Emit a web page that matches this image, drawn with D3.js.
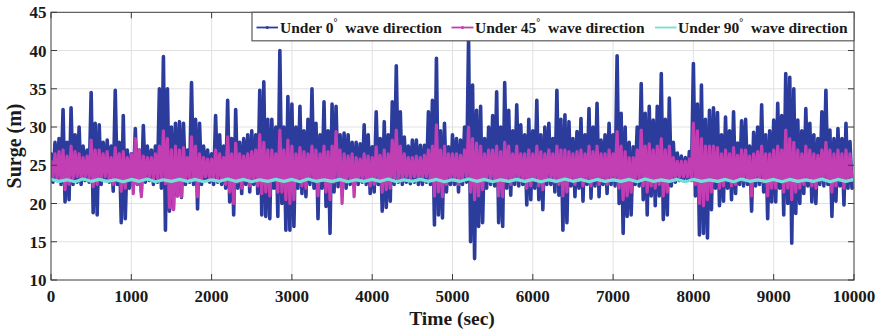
<!DOCTYPE html>
<html><head><meta charset="utf-8">
<script src="https://cdn.jsdelivr.net/npm/d3@7"></script>
<style>
body{margin:0;background:#fff}
text{font-family:"Liberation Serif","Times New Roman",serif;font-weight:bold;fill:#1a1a1a}
</style>
</head><body><svg id="chart" width="880" height="331"></svg>
<script>
// ---------------- data ----------------
const xTicks = [0,1000,2000,3000,4000,5000,6000,7000,8000,9000,10000];
const yTicks = [10,15,20,25,30,35,40,45];
const xTitle = "Time (sec)";
const yTitle = "Surge (m)";
const seriesNames = ["Under 0", "Under 45", "Under 90"];
const sampleStep = 50;      // seconds between successive peak samples
const cyanStep = 200;       // seconds between successive samples for the 90° series

// 0° wave direction: local maxima / minima in each 50 s window
const blueHigh = [
 26.5,28,28.5,32.3,28,32.5,29,30,27.5,27,
 34.5,30.5,30.3,28,28.3,27.5,34.8,28,31.5,27,
 26.5,29.8,27,30.2,27.5,27,27.5,35,39.2,35,
 30,30.5,30.7,30.5,27,35.8,31,30.5,27.5,27,
 26.5,31.5,29,27.5,33.5,28.5,32.3,28,28.5,29,
 29.5,29,34.8,35.9,31,31,30,40,30,34,
 33,30,32.7,29.5,31,35,30.5,29,33.3,29.5,
 33,32.7,29,29.2,29,28,28,27.8,30.3,29,
 27.4,32,28.5,30.7,29,33.3,38,32,28.7,27.5,
 28.3,28.3,27.6,27.6,32,33.5,39,29.5,30.5,27.4,
 29,28.5,28.3,30,41.5,35.5,32.2,32.7,28.5,30,
 31.5,34.6,30,35.8,32.2,29.5,32.9,30.3,29,31,
 29.5,33.5,29,30,30.5,28.5,34.8,31,31.6,30.7,
 28.5,29.4,31.1,29,32.4,30,33.1,28.3,29,30.5,
 29,39.3,31.8,30,28,27.4,30,35.7,31.8,32.7,
 30.9,32.7,37,31,33.8,28,26.6,26.2,26,26.8,
 38.3,33,35.5,31,32.2,32.5,31.9,29,31.3,29.5,
 32,27.9,30.8,31,27.5,29.3,30,32.9,29,29.5,
 30.9,33.1,31.5,37,36.5,35,30.9,29.5,32.4,30.5,
 29,28.5,32,34.8,29.6,28.5,29.8,28.5,30.5,28.1
];
const blueLow = [
 22.8,23,22.5,20.2,20.5,22.5,22.8,22.5,23,22.8,
 18.8,18.5,22.5,23,22.8,21.6,22.5,17.5,18,22,
 22.3,22.5,21.5,22.8,23,22.5,22.8,22,16.5,19,
 19.3,21,20.8,22.5,22.8,22.5,19.3,22.5,23,22.8,
 22.5,22.8,22.5,22,20.2,18.5,22,21.3,22.5,21.5,
 22.5,21.3,18.5,18.3,18,22,18.3,20,16.5,16.5,
 17,22,21.3,20.9,22.5,22,18,22,19.6,16.1,
 21.5,22.2,22.5,22,22.5,23,22.5,22.8,22.5,21.3,
 21.5,22.5,19,19.5,20.3,22.5,22.8,22.5,22.8,22.6,
 22.8,22.5,22.5,22.8,22.5,17.2,18.5,18.1,21.5,22.5,
 22.5,21.5,22.5,22.8,15,12.8,17,17.5,22,22.5,
 22.3,17.5,17,22,21.1,22.5,22.3,22.5,19.8,20.5,
 22,20.5,19.2,22.5,22.5,21.5,21.1,16.5,17.5,22.3,
 20.9,22,20.3,22.5,20.7,22.3,20.9,22.5,21.3,22.5,
 22.3,20,16.1,18.3,18.5,22.5,22.3,20.5,18.5,21,
 19.7,21,17.9,18.5,22.3,22.8,23,23,23.2,23,
 21,15.9,16.1,15.5,19.2,22,19.7,20.3,22,20.5,
 21.3,22.5,22.3,22.5,19,22.3,22.5,21.5,18,20.2,
 20.2,22,18.5,20,14.8,18.7,20,21.3,22.3,20.2,
 20,22.5,22.3,22.5,18.3,20.3,22.3,19.8,22,22
];

// 45° wave direction
const magentaHigh = [
 25.5,26.5,26.8,27,26.2,27.5,26.8,26.5,26,26.2,
 28.3,27,27,26.5,26.8,26,27.3,26.5,26.8,26,
 26.5,28.5,27,26.2,26,26,26.5,27.5,29.5,28.5,
 27,27.5,27,27.3,26,28.7,27.5,26.5,26,25.8,
 25.8,27,26.5,26,28.7,26.5,27.9,26.5,26.2,26.5,
 26.8,27,29,28,27,27,26.5,29.6,27,28.3,
 27.5,26.5,27.3,26.8,26.5,27.5,27,26.5,27.5,26.8,
 27.5,29.4,27,26.5,26.2,26.5,26,25.8,26.5,26.2,
 26,27.4,26.3,27,26.5,28.3,29.6,27.5,26.5,26,
 26,26.2,26,26.3,27,27.5,30.3,27,27.5,26.5,
 26.5,26.5,26.3,27,30,28.5,27.9,27.5,26.5,27,
 27,27.5,26.8,28,27.5,26.5,27.5,26.5,26.5,27,
 26.5,27.5,26.8,26.5,27,26.5,27.5,27,27,26.8,
 26.5,26.8,27,26.5,27.5,26.8,27.5,26.5,26.5,27,
 26.5,29.4,27.5,26.8,26,26,27,29.6,27.5,27.8,
 27,27.5,28.5,27,27.5,26,25.5,25.5,25.5,25.8,
 30.5,29.5,28.5,27.5,27.5,27.5,27.3,26.5,27,26.5,
 27.3,26.3,27,27,26.2,26.5,26.8,27.5,26.5,26.5,
 27,27.5,27,29.6,28.5,28,27,26.5,27.5,27,
 26.5,26.3,27,28,27,26.5,27,26.5,27,26.5
];
const magentaLow = [
 23.5,23.3,23,21.8,22.5,23.3,23.5,23.2,23.5,23.3,
 22.2,22.5,23.3,23.5,23.3,22.5,23.2,21.6,22,23,
 21.3,22.5,20.9,23.2,23.5,23.2,23.3,23,22.6,19.5,
 19.2,21,20.9,23,23.3,23,20.9,23,23.5,23.3,
 23.2,23.3,23,22.5,21.5,20,22.8,22,23,22.3,
 23.2,22.3,21.3,21.5,21,23,21.5,21.5,20.5,20,
 20.5,23,22.3,22,23.2,23,21,23,21.5,20.5,
 22.8,23,20,22.8,23.2,20.9,23,23.3,23,22.3,
 22.5,23.2,21.5,21.8,22,23.2,23.3,23,23.5,23.3,
 23.5,23.2,23.3,23.5,23.2,21,21.5,20.9,22.5,23.3,
 23.3,22.5,23.3,23.5,21.5,20.5,21,21.8,23,23.2,
 23,21,20.9,23,22.5,23.2,23,23.3,22,22.3,
 23,22.3,21.8,23.2,23.3,22.8,22.5,21,21.5,23,
 22.5,23,22.3,23.2,22.3,23,22.5,23.2,22.5,23.2,
 23,22,20.5,21,21.5,23.2,23,22.3,21.5,22.3,
 22,22.5,21,21.5,23,23.3,23.5,23.5,23.5,23.3,
 22.5,20,19.7,20.5,21.5,23,22,22.3,23,22.3,
 22.5,23.2,23,23.2,21,23,23.2,22.8,21,22,
 22,23,21.5,22,20.5,21.5,22,22.5,23,22.3,
 22,23,23,23,21.5,22.3,23,22,23,23
];

// 90° wave direction (almost flat)
const cyanHigh = [
 23.15,23.1,23.2,23.15,23.1,23.15,23.2,23.1,23.15,23.15,
 23.1,23.2,23.15,23.1,23.15,23.15,23.2,23.1,23.15,23.1,
 23.15,23.2,23.1,23.15,23.15,23.1,23.2,23.15,23.1,23.15,
 23.15,23.1,23.2,23.15,23.15,23.1,23.15,23.2,23.1,23.15,
 23.15,23.1,23.15,23.2,23.1,23.15,23.15,23.1,23.2,23.15
];
const cyanLow = [
 22.9,22.85,22.9,22.9,22.85,22.9,22.85,22.9,22.9,22.85,
 22.9,22.9,22.85,22.9,22.9,22.85,22.9,22.9,22.85,22.9,
 22.9,22.85,22.9,22.9,22.85,22.9,22.9,22.85,22.9,22.9,
 22.85,22.9,22.9,22.85,22.9,22.9,22.85,22.9,22.9,22.85,
 22.9,22.9,22.85,22.9,22.9,22.85,22.9,22.9,22.85,22.9
];

const colors = ["#2b3c9d", "#c13fb2", "#72e0d7"];

// ---------------- drawing ----------------
const svg = d3.select("#chart");
const x = d3.scaleLinear().domain([0, 10000]).range([51, 854]);
const y = d3.scaleLinear().domain([10, 45]).range([280, 12.3]);

// grid
svg.append("g").selectAll("line").data(xTicks.slice(1, -1)).join("line")
  .attr("x1", d => x(d)).attr("x2", d => x(d)).attr("y1", y(45)).attr("y2", y(10))
  .attr("stroke", "#e2e2e2").attr("stroke-width", 1);
svg.append("g").selectAll("line").data(yTicks.slice(1, -1)).join("line")
  .attr("y1", d => y(d)).attr("y2", d => y(d)).attr("x1", x(0)).attr("x2", x(10000))
  .attr("stroke", "#e2e2e2").attr("stroke-width", 1);

svg.append("clipPath").attr("id", "clip").append("rect")
  .attr("x", x(0)).attr("y", y(45)).attr("width", x(10000) - x(0)).attr("height", y(10) - y(45));

function zigzag(high, low, step) {
  const pts = [];
  high.forEach((h, i) => {
    pts.push([i * step, h]);
    pts.push([i * step + step / 2, low[i]]);
  });
  return pts;
}
const line = d3.line().x(d => x(d[0])).y(d => y(d[1]));
const plot = svg.append("g").attr("clip-path", "url(#clip)");
const cyanPts = zigzag(cyanHigh, cyanLow, cyanStep);
cyanPts.push([10000, cyanHigh[cyanHigh.length - 1]]);
const series = [
  {pts: zigzag(blueHigh, blueLow, sampleStep), c: colors[0], w: 3.6},
  {pts: zigzag(magentaHigh, magentaLow, sampleStep), c: colors[1], w: 3.2},
  {pts: cyanPts, c: colors[2], w: 3.2}
];
series.forEach(s => {
  plot.append("path").attr("d", line(s.pts)).attr("fill", "none")
    .attr("stroke", s.c).attr("stroke-width", s.w)
    .attr("stroke-linejoin", "round").attr("stroke-linecap", "round");
});

// axes box and inward ticks
const frame = svg.append("g").attr("stroke", "#3a3a3a").attr("stroke-width", 1);
frame.append("rect").attr("x", x(0)).attr("y", y(45)).attr("width", x(10000) - x(0))
  .attr("height", y(10) - y(45)).attr("fill", "none");
const tl = 6;
xTicks.forEach(t => {
  frame.append("line").attr("x1", x(t)).attr("x2", x(t)).attr("y1", y(10)).attr("y2", y(10) - tl);
  frame.append("line").attr("x1", x(t)).attr("x2", x(t)).attr("y1", y(45)).attr("y2", y(45) + tl);
});
yTicks.forEach(t => {
  frame.append("line").attr("x1", x(0)).attr("x2", x(0) + tl).attr("y1", y(t)).attr("y2", y(t));
  frame.append("line").attr("x1", x(10000)).attr("x2", x(10000) - tl).attr("y1", y(t)).attr("y2", y(t));
});

// tick labels
svg.append("g").selectAll("text").data(xTicks).join("text")
  .attr("x", d => x(d)).attr("y", 302).attr("text-anchor", "middle")
  .attr("font-size", 17).text(d => d);
svg.append("g").selectAll("text").data(yTicks).join("text")
  .attr("x", 46.5).attr("y", d => y(d) + 6).attr("text-anchor", "end")
  .attr("font-size", 17).text(d => d);

// axis titles
svg.append("text").attr("x", 452).attr("y", 325).attr("text-anchor", "middle")
  .attr("font-size", 19.5).text(xTitle);
svg.append("text").attr("transform", "translate(21,146) rotate(-90)")
  .attr("text-anchor", "middle").attr("font-size", 20).text(yTitle);

// legend
const lg = svg.append("g");
lg.append("rect").attr("x", 252).attr("y", 12.3).attr("width", 602).attr("height", 28.5)
  .attr("fill", "#fff").attr("stroke", "#5a5a5a").attr("stroke-width", 1.2);
const entries = [
  {x0: 256.5, x1: 278, tx: 280, c: colors[0], name: seriesNames[0], mk: true},
  {x0: 451.5, x1: 473.5, tx: 475, c: colors[1], name: seriesNames[1], mk: true},
  {x0: 655, x1: 676.5, tx: 678, c: colors[2], name: seriesNames[2], mk: false}
];
entries.forEach(e => {
  lg.append("line").attr("x1", e.x0).attr("x2", e.x1).attr("y1", 27.5).attr("y2", 27.5)
    .attr("stroke", e.c).attr("stroke-width", 1.8);
  if (e.mk) lg.append("circle").attr("cx", (e.x0 + e.x1) / 2).attr("cy", 27.5).attr("r", 1.6).attr("fill", e.c);
  const t = lg.append("text").attr("x", e.tx).attr("y", 33).attr("font-size", 15.5);
  t.append("tspan").text(e.name);
  t.append("tspan").attr("font-size", 10).attr("dy", -7).text("°");
  t.append("tspan").attr("dy", 7).text("\u00a0 wave direction");
});
</script>
</body></html>
